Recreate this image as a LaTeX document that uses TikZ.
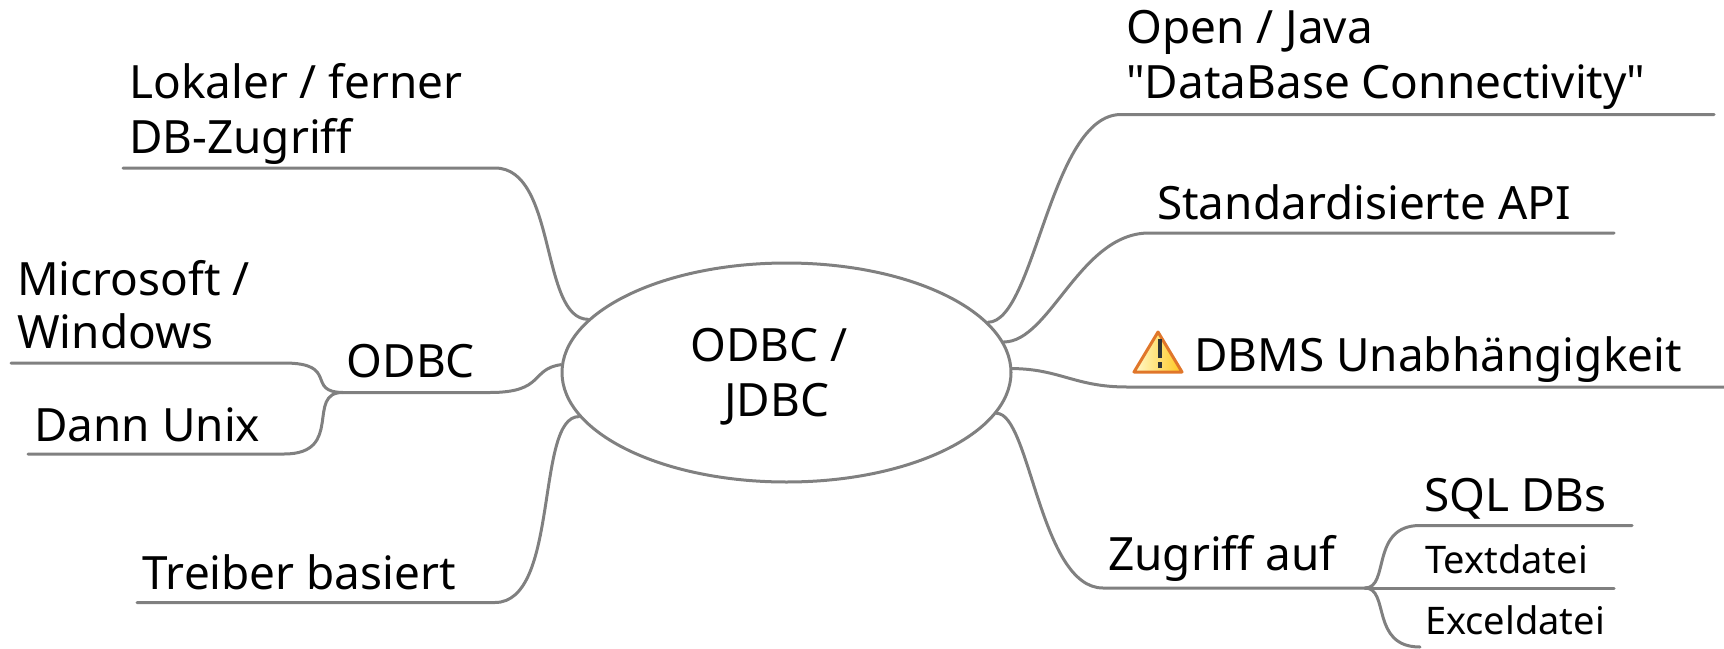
\documentclass[tikz,border=0pt]{standalone}
\usepackage{fontspec}
\setmainfont{Noto Sans}
\newfontfamily\straightfont{Noto Sans}
\usetikzlibrary{shapes.geometric,shadings}
\definecolor{edgegrey}{HTML}{808080}
\definecolor{warnedge}{HTML}{E0762A}
\definecolor{warnlight}{HTML}{FFF9CC}
\definecolor{warndark}{HTML}{FFC81E}
\definecolor{warnmark}{HTML}{2E3436}
\tikzset{
  big/.style={anchor=base west,inner sep=0pt,font=\fontsize{45.9}{54}\selectfont,text=black},
  small/.style={anchor=base west,inner sep=0pt,font=\fontsize{38}{44}\selectfont,text=black},
  link/.style={draw=edgegrey,line width=3pt,line cap=round},
  rootshape/.style={ellipse,draw=edgegrey,line width=3pt,minimum width=449pt,minimum height=219pt,inner sep=0pt}
}
\begin{document}
\begin{tikzpicture}[x=1pt,y=-1pt]
\useasboundingbox (0,0) rectangle (1724,648);
\clip (0,0) rectangle (1724,648);
% root
\node[rootshape] (root) at (786.5,372.5) {};
\node[big] (rootA) at (690,361) {ODBC /};
\node[big] (rootB) at (724,416) {JDBC};
% labels
\node[big] (lok1) at (129,98) {Lokaler / ferner};
\node[big] (lok2) at (129,153) {DB-Zugriff};
\node[big] (ms1) at (17,295) {Microsoft /};
\node[big] (ms2) at (17,348) {Windows};
\node[big] (odbc) at (346.5,377) {ODBC};
\node[big] (unix) at (34,441) {Dann Unix};
\node[big] (treiber) at (142.5,589) {Treiber basiert};
\node[big] (open1) at (1126,43) {Open / Java};
\node[big] (open2) at (1126,98) {{\straightfont"}DataBase Connectivity{\straightfont"}};
\node[big] (std) at (1157,219) {Standardisierte API};
\node[big] (dbms) at (1194,371) {DBMS Unabhängigkeit};
\node[big] (zug) at (1108,570) {Zugriff auf};
\node[big] (sql) at (1424,511) {SQL DBs};
\node[small] (txt) at (1425,573) {Textdatei};
\node[small] (xl) at (1425,634) {Exceldatei};
% coordinates
\coordinate (lokA) at (123,168);   \coordinate (lokB) at (495,168);
\coordinate (msA) at (11,363);     \coordinate (msB) at (284,363);
\coordinate (unA) at (28,454);     \coordinate (unB) at (284,454);
\coordinate (odA) at (343,392.5);  \coordinate (odB) at (490,392.5);
\coordinate (trA) at (137,602.5);  \coordinate (trB) at (495,602.5);
\coordinate (opA) at (1121,114.5); \coordinate (opB) at (1714,114.5);
\coordinate (stA) at (1149,233);   \coordinate (stB) at (1614,233);
\coordinate (dbA) at (1127,387);   \coordinate (dbB) at (1724,387);
\coordinate (zuA) at (1103,588);   \coordinate (zuB) at (1365,588);
\coordinate (sqA) at (1420,525.5); \coordinate (sqB) at (1632,525.5);
\coordinate (txA) at (1420,588);   \coordinate (txB) at (1614,588);
\coordinate (xlA) at (1420,647);
% connectors
\draw[link] (lokA) -- (lokB) .. controls (557,168) and (540,319) .. (root.165);
\draw[link] (odA) -- (odB) .. controls (545,392.5) and (530,369) .. (root.178);
\draw[link] (trA) -- (trB) .. controls (560,602.5) and (535,416) .. (root.192);
\draw[link] (msA) -- (msB) .. controls (340,363) and (305,392) .. (odA);
\draw[link] (unA) -- (unB) .. controls (345,454) and (305,392) .. (odA);
\draw[link] (opB) -- (opA) .. controls (1050,114.5) and (1035,322) .. (root.14);
\draw[link] (stB) -- (stA) .. controls (1080,233) and (1050,342) .. (root.8);
\draw[link] (dbB) -- (dbA) .. controls (1075,387) and (1060,369) .. (root.1);
\draw[link] (zuB) -- (zuA) .. controls (1040,588) and (1030,413) .. (root.-11);
\draw[link] (sqB) -- (sqA) .. controls (1370,525.5) and (1390,588) .. (zuB);
\draw[link] (txB) -- (txA) -- (zuB);
\draw[link] (xlA) .. controls (1370,647) and (1390,588) .. (zuB);
% warning icon
\path[left color=warnlight,right color=warndark]
  (1158,332) -- (1182,372) -- (1134,372) -- cycle;
\draw[warnedge,line width=3pt,line join=round] (1158,332) -- (1182,372) -- (1134,372) -- cycle;
\fill[warnmark] (1157.5,339) rectangle (1161.5,358);
\fill[warnmark] (1157.5,362) rectangle (1161.5,368);
\end{tikzpicture}
\end{document}
